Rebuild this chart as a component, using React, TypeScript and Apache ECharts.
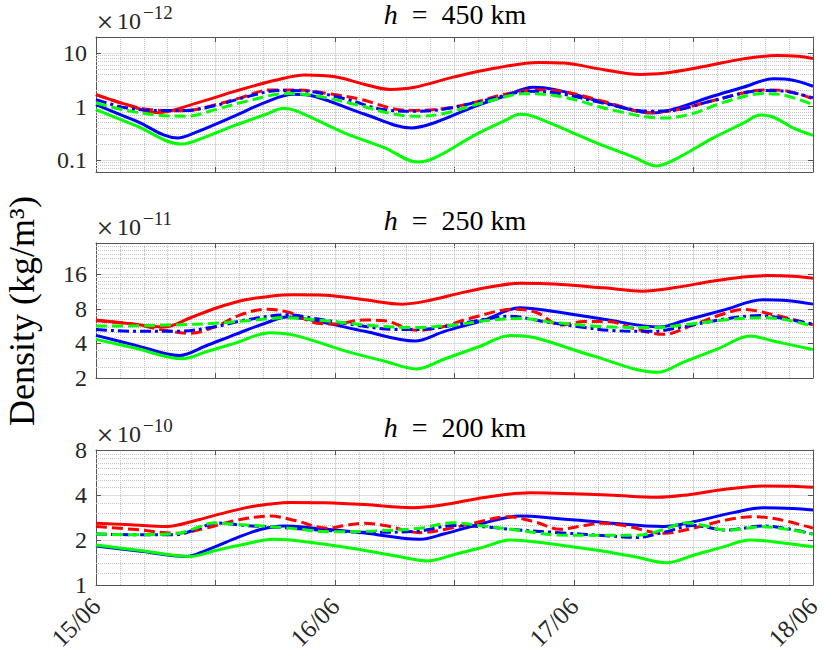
import React, { useEffect, useRef } from 'react';
import * as echarts from 'echarts';

// ---- x axis (hours since 15/06 00:00) ----
const DAY_LABELS = ['15/06', '16/06', '17/06', '18/06'];
const HOURS_MAX = 72;

// ---- Panel 1: h = 450 km (x 1e-12 kg/m^3) ----
const P1_RED_SOLID = [[0,1.68],[3,1.1],[6.2,0.77],[10,1.15],[14,1.95],[18,3.1],[21,3.9],[24,3.6],[27,2.6],[29.5,2.1],[32,2.3],[36,3.6],[40,5.2],[44.5,6.7],[47,6.5],[51,4.9],[54.6,4.0],[57,4.2],[61,5.6],[65,7.8],[68.4,9.0],[70.5,8.7],[72,7.9]];
const P1_BLUE_SOLID = [[0,1.09],[4,0.54],[8.2,0.26],[10,0.33],[14,0.68],[17,1.2],[19.8,1.7],[22,1.55],[27,0.72],[31.7,0.40],[34,0.5],[38,1.0],[41,1.55],[43.9,2.3],[46,2.1],[51,1.2],[55.9,0.76],[58,0.9],[62,1.58],[65,2.3],[68,3.3],[70,3.1],[72,2.4]];
const P1_GREEN_SOLID = [[0,0.88],[4,0.44],[8.6,0.20],[10,0.23],[14,0.45],[17,0.71],[18.8,0.92],[20,0.85],[25,0.32],[29,0.17],[32.3,0.092],[34,0.11],[38,0.29],[41,0.54],[42.6,0.72],[44,0.65],[50,0.22],[54,0.114],[56.3,0.078],[58,0.1],[62,0.26],[65,0.49],[66.7,0.70],[68,0.64],[70,0.4],[72,0.29]];
const P1_RED_DASH = [[0,1.68],[3,1.1],[5.4,0.88],[9,0.84],[12,1.09],[14.5,1.46],[17.5,2.05],[20,2.05],[23.8,1.7],[26.7,1.35],[30,0.9],[32,0.85],[35,0.92],[38,1.2],[41,1.7],[44.3,2.05],[47,1.9],[51,1.25],[55.6,0.78],[58,0.85],[62,1.3],[65,1.8],[67,2.05],[69,2.0],[72,1.4]];
const P1_BLUE_DASHDOT = [[0,1.35],[3,0.95],[6,0.85],[9,0.85],[12,1.05],[15,1.5],[18.5,2.0],[21,1.95],[25,1.4],[28.8,0.88],[32,0.82],[35,0.9],[39,1.3],[43.6,1.94],[47,1.7],[51,1.15],[55.6,0.82],[58,0.85],[62,1.3],[67,2.0],[69,1.95],[72,1.46]];
const P1_GREEN_DASH = [[0,1.17],[3,0.85],[6,0.7],[9.1,0.66],[12,0.88],[15,1.25],[19.2,1.75],[22,1.6],[26,1.1],[30,0.72],[32.5,0.66],[35,0.75],[39,1.2],[43.3,1.75],[47,1.5],[52,0.85],[57,0.61],[60,0.75],[63,1.2],[67,1.75],[69,1.65],[72,1.09]];

// ---- Panel 2: h = 250 km (x 1e-11 kg/m^3) ----
const P2_RED_SOLID = [[0,6.4],[3,6.0],[6.8,5.56],[9.5,6.7],[12,8.1],[15,9.6],[17.5,10.3],[19.8,10.6],[23,10.5],[27,9.6],[30.8,8.8],[33,9.3],[37,11.2],[40,12.6],[42.6,13.4],[46,13.2],[51,12.2],[54.9,11.4],[58,12.2],[62,14],[65,15.2],[67.4,15.6],[70,15.4],[72,14.8]];
const P2_BLUE_SOLID = [[0,4.7],[4,3.85],[8.4,3.14],[11,3.8],[14,4.8],[17,6.0],[19.2,6.8],[22,6.3],[27,5.1],[32,4.2],[35,5.1],[39,6.4],[42.6,8.2],[46,7.6],[51,6.5],[56.6,5.56],[59,6.3],[63,7.8],[67,9.6],[69,9.5],[72,8.8]];
const P2_GREEN_SOLID = [[0,4.34],[4,3.63],[8.7,2.94],[11,3.37],[14,4.03],[17.5,4.96],[20,4.7],[25,3.45],[29,2.8],[32.2,2.40],[35,2.93],[38.5,3.76],[41.6,4.7],[44,4.5],[50,3.1],[56.4,2.24],[59,2.75],[62.5,3.6],[65.7,4.64],[68,4.2],[72,3.54]];
const P2_RED_DASH = [[0,6.3],[3.7,5.9],[6.9,5.2],[9.4,4.9],[12,5.6],[14.5,7.1],[17.2,7.95],[19.5,7.4],[22.2,6.0],[24,5.9],[26.8,6.4],[29,6.3],[32.2,5.2],[34.5,5.5],[37.5,6.6],[42,7.95],[44.3,7.4],[46.6,5.8],[49,6.2],[51.5,6.2],[54,5.4],[57,4.8],[60,5.8],[62.5,7.0],[65,7.9],[68.4,7.0],[72,5.8]];
const P2_BLUE_DASHDOT = [[0,5.3],[4,5.1],[8,5.1],[12,5.6],[15,6.4],[19.2,7.1],[22,6.6],[26,5.8],[30,5.3],[32.5,5.3],[36,5.8],[39,6.5],[41.5,6.9],[45,6.2],[48.5,5.6],[51.6,5.2],[55.8,5.1],[59,5.6],[63,6.5],[66.7,7.0],[69,6.6],[72,5.9]];
const P2_GREEN_DASH = [[0,5.67],[4,5.7],[8,5.8],[12,6.0],[16,6.4],[19.2,6.7],[23,6.3],[28,5.7],[32,5.5],[36,5.8],[39,6.3],[42.6,6.6],[46,6.1],[51,5.6],[55.8,5.5],[59,5.8],[63,6.4],[66.7,6.7],[69,6.5],[72,5.67]];

// ---- Panel 3: h = 200 km (x 1e-10 kg/m^3) ----
const P3_RED_SOLID = [[0,2.59],[3.5,2.53],[7.1,2.46],[10,2.7],[13,3.05],[16,3.38],[19.5,3.57],[23,3.55],[27,3.45],[31.8,3.29],[35,3.45],[39,3.85],[43.6,4.14],[47,4.1],[52,3.98],[56.3,3.86],[59,3.98],[63,4.35],[67,4.6],[70,4.58],[72,4.5]];
const P3_BLUE_SOLID = [[0,1.82],[4.5,1.68],[9.1,1.55],[11,1.7],[14,2.05],[16.5,2.35],[18.8,2.48],[22,2.4],[27,2.23],[32.5,2.02],[35,2.2],[39,2.6],[42.6,2.89],[46,2.8],[51,2.62],[57,2.46],[60,2.65],[64,3.05],[67,3.29],[70,3.25],[72,3.17]];
const P3_GREEN_SOLID = [[0,1.85],[4.5,1.7],[9.4,1.55],[12,1.7],[15,1.88],[17.8,2.02],[21,1.95],[26,1.75],[30,1.57],[33.2,1.45],[36,1.6],[39,1.8],[41.6,2.0],[44,1.95],[50,1.72],[54,1.55],[57.3,1.41],[60,1.58],[63,1.8],[65.7,2.0],[68,1.95],[72,1.80]];
const P3_RED_DASH = [[0,2.46],[4,2.35],[8.1,2.22],[11,2.4],[14,2.7],[17.5,2.89],[20,2.7],[23.2,2.40],[25,2.5],[26.8,2.59],[29,2.5],[32.5,2.24],[35,2.35],[38,2.6],[41.3,2.86],[44,2.65],[46.6,2.36],[49,2.5],[50.9,2.59],[53,2.5],[57,2.22],[60,2.4],[63,2.7],[66,2.86],[68.5,2.75],[72,2.4]];
const P3_BLUE_DASHDOT = [[0,2.19],[4,2.17],[8,2.17],[10,2.35],[12.1,2.6],[15,2.5],[18.8,2.42],[23,2.32],[27.5,2.25],[32.5,2.3],[35.9,2.5],[39,2.45],[41.6,2.36],[46,2.25],[51.6,2.13],[54.3,2.08],[57,2.25],[60,2.5],[63.3,2.33],[67,2.48],[72,2.19]];
const P3_GREEN_DASH = [[0,2.19],[4,2.17],[8,2.2],[10,2.4],[11.8,2.6],[14,2.55],[18.8,2.42],[23.8,2.27],[28,2.3],[32.5,2.4],[35.9,2.61],[38.5,2.5],[41.6,2.36],[46.6,2.16],[51,2.15],[54.3,2.15],[57,2.35],[59.3,2.61],[61,2.5],[63.3,2.33],[67,2.45],[72,2.19]];

// ---- minor grid (log axes) ----
const P1_MINOR = [0.07,0.08,0.09,0.2,0.3,0.4,0.5,0.6,0.7,0.8,0.9,2,3,4,5,6,7,8,9];
const P2_MINOR = [2.5,3,3.5,4.5,5,5.5,6,6.5,7,7.5,9,10,11,12,13,14,15,18,20,22,24,26,28];
const P3_MINOR = [1.2,1.4,1.6,1.8,2.5,3,3.5,4.5,5,5.5,6,6.5,7,7.5];

const PANEL_TITLES = ['450', '250', '200'];
const PANEL_EXPONENTS = ['\u221212', '\u221211', '\u221210'];

const FONT = 'Liberation Serif';
const AX = '#555555';
const TXT = '#262626';
const GRID_TOPS = [37, 243, 450];
const GRID_H = 135;
const GRID_LEFT = 96;
const GRID_RIGHT = 17;

const LINE_STYLES: any[] = [
  { color: '#ff0000', type: 'solid' },
  { color: '#0000ff', type: 'solid' },
  { color: '#00ff00', type: 'solid' },
  { color: '#ff0000', type: [11, 5] },
  { color: '#0000ff', type: [11, 4, 3, 4] },
  { color: '#00ff00', type: [11, 5] },
];

const PANELS = [
  { base: 10, min: 0.06, max: 20, hideEnds: true, minor: P1_MINOR,
    series: [P1_RED_SOLID, P1_BLUE_SOLID, P1_GREEN_SOLID, P1_RED_DASH, P1_BLUE_DASHDOT, P1_GREEN_DASH] },
  { base: 2, min: 2, max: 30, hideEnds: false, minor: P2_MINOR,
    series: [P2_RED_SOLID, P2_BLUE_SOLID, P2_GREEN_SOLID, P2_RED_DASH, P2_BLUE_DASHDOT, P2_GREEN_DASH] },
  { base: 2, min: 1, max: 8, hideEnds: false, minor: P3_MINOR,
    series: [P3_RED_SOLID, P3_BLUE_SOLID, P3_GREEN_SOLID, P3_RED_DASH, P3_BLUE_DASHDOT, P3_GREEN_DASH] },
];

function logLabel(base: number) {
  return (v: number) => {
    const l = Math.log(v) / Math.log(base);
    if (Math.abs(l - Math.round(l)) > 1e-6) return '';
    return String(+Number(v).toPrecision(6));
  };
}

function buildOption() {
  const grid: any[] = [];
  const xAxis: any[] = [];
  const yAxis: any[] = [];
  const series: any[] = [];
  const graphic: any[] = [];

  PANELS.forEach((p, i) => {
    grid.push({ left: GRID_LEFT, right: GRID_RIGHT, top: GRID_TOPS[i], height: GRID_H, show: false });
    xAxis[i] = {
      type: 'value', gridIndex: i, min: 0, max: HOURS_MAX, interval: 12, position: 'bottom',
      axisLine: { show: true, onZero: false, lineStyle: { color: AX, width: 1 } },
      axisTick: { show: true, inside: true, length: 5, lineStyle: { color: AX } },
      axisLabel: {
        show: i === 2, rotate: 45, margin: 17, fontFamily: FONT, fontSize: 25, color: TXT,
        showMinLabel: true, showMaxLabel: true,
        formatter: (v: number) => (v % 24 === 0 ? DAY_LABELS[v / 24] : ''),
      },
      splitLine: { show: true, lineStyle: { color: '#dedede', width: 1 } },
      minorTick: { show: false, splitNumber: 5 },
      minorSplitLine: { show: true, lineStyle: { color: '#c4c4c4', type: 'dotted', width: 1 } },
    };
    xAxis[3 + i] = {
      type: 'value', gridIndex: i, min: 0, max: HOURS_MAX, interval: 12, position: 'top',
      axisLine: { show: true, onZero: false, lineStyle: { color: AX, width: 1 } },
      axisTick: { show: true, inside: true, length: 5, lineStyle: { color: AX } },
      axisLabel: { show: false }, splitLine: { show: false },
    };
    yAxis[i] = {
      type: 'log', logBase: p.base, min: p.min, max: p.max, gridIndex: i, position: 'left',
      axisLine: { show: true, onZero: false, lineStyle: { color: AX, width: 1 } },
      axisTick: { show: true, inside: true, length: 5, lineStyle: { color: AX } },
      axisLabel: {
        fontFamily: FONT, fontSize: 24, color: TXT, margin: 9,
        showMinLabel: !p.hideEnds, showMaxLabel: !p.hideEnds,
        formatter: logLabel(p.base),
      },
      splitLine: { show: true, lineStyle: { color: '#dedede', width: 1 } },
    };
    yAxis[3 + i] = {
      type: 'log', logBase: p.base, min: p.min, max: p.max, gridIndex: i, position: 'right',
      axisLine: { show: true, onZero: false, lineStyle: { color: AX, width: 1 } },
      axisTick: { show: true, inside: true, length: 5, lineStyle: { color: AX } },
      axisLabel: { show: false }, splitLine: { show: false },
    };

    // minor log grid lines through the axis scale (kept beneath the curves)
    series.push({
      type: 'line', xAxisIndex: i, yAxisIndex: i, data: [], silent: true, z: 1,
      markLine: {
        silent: true, symbol: 'none', label: { show: false }, animation: false, z: 1,
        lineStyle: { color: '#c4c4c4', type: 'dotted', width: 1 },
        emphasis: { disabled: true },
        data: p.minor.map((v) => ({ yAxis: v })),
      },
    });

    p.series.forEach((d, k) => {
      series.push({
        type: 'line', xAxisIndex: i, yAxisIndex: i, data: d, smooth: 0.35,
        showSymbol: false, symbol: 'none', silent: true, z: 6,
        lineStyle: { color: LINE_STYLES[k].color, type: LINE_STYLES[k].type, width: 3 },
      });
    });

    const top = GRID_TOPS[i];
    graphic.push({
      type: 'text', x: 455, y: top - 23,
      style: {
        text: '{i|h}{n|  =  ' + PANEL_TITLES[i] + ' km}',
        align: 'center', verticalAlign: 'middle', fill: '#000',
        rich: {
          i: { fontFamily: FONT, fontStyle: 'italic', fontSize: 28, fill: '#000' },
          n: { fontFamily: FONT, fontSize: 28, fill: '#000' },
        },
      },
    });
    graphic.push({
      type: 'text', x: 105, y: top - 16,
      style: { text: '\u00d7', fontFamily: FONT, fontSize: 30, fill: TXT, align: 'center', verticalAlign: 'middle' },
    });
    graphic.push({
      type: 'text', x: 117, y: top - 16,
      style: { text: '10', fontFamily: FONT, fontSize: 24, fill: TXT, align: 'left', verticalAlign: 'middle' },
    });
    graphic.push({
      type: 'text', x: 143, y: top - 25,
      style: { text: PANEL_EXPONENTS[i], fontFamily: FONT, fontSize: 19, fill: TXT, align: 'left', verticalAlign: 'middle' },
    });
  });

  graphic.push({
    type: 'text', x: 22, y: 311, rotation: Math.PI / 2,
    style: {
      text: 'Density (kg/m\u00b3)', fontFamily: FONT, fontSize: 36, fill: '#000',
      align: 'center', verticalAlign: 'middle',
    },
  });

  return { animation: false, backgroundColor: '#fff', grid, xAxis, yAxis, series, graphic };
}

export default function App() {
  const ref = useRef<HTMLDivElement>(null);
  useEffect(() => {
    document.body.style.margin = '0';
    const chart = echarts.init(ref.current as HTMLDivElement, null, { renderer: 'svg' });
    chart.setOption(buildOption() as any);
    return () => chart.dispose();
  }, []);
  return <div ref={ref} style={{ width: 830, height: 658 }} />;
}
